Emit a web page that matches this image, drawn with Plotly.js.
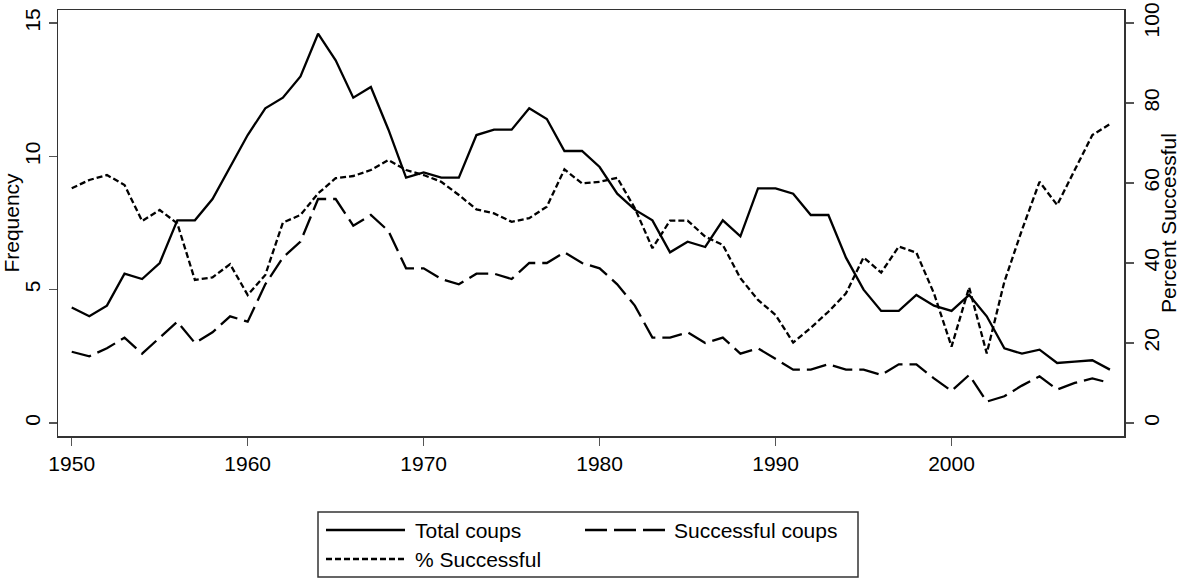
<!DOCTYPE html>
<html>
<head>
<meta charset="utf-8">
<script src="https://cdn.plot.ly/plotly-3.0.1.min.js"></script>
<style>html,body{margin:0;padding:0;background:#fff;}#chart{width:1180px;height:578px;}</style>
</head>
<body>
<div id="chart"></div>
<script>
const years = [];
for (let y = 1950; y <= 2009; y++) years.push(y);

const totalCoups = [4.33,4.0,4.4,5.6,5.4,6.0,7.6,7.6,8.4,9.6,
  10.8,11.8,12.2,13.0,14.6,13.6,12.2,12.6,11.0,9.2,
  9.4,9.2,9.2,10.8,11.0,11.0,11.8,11.4,10.2,10.2,
  9.6,8.6,8.0,7.6,6.4,6.8,6.6,7.6,7.0,8.8,
  8.8,8.6,7.8,7.8,6.2,5.0,4.2,4.2,4.8,4.4,
  4.2,4.8,4.0,2.8,2.6,2.75,2.25,2.3,2.35,2.0];

const successfulCoups = [2.67,2.5,2.8,3.2,2.6,3.2,3.8,3.0,3.4,4.0,
  3.8,5.2,6.2,6.8,8.4,8.4,7.4,7.8,7.2,5.8,
  5.8,5.4,5.2,5.6,5.6,5.4,6.0,6.0,6.4,6.0,
  5.8,5.2,4.4,3.2,3.2,3.4,3.0,3.2,2.6,2.8,
  2.4,2.0,2.0,2.2,2.0,2.0,1.8,2.2,2.2,1.67,
  1.2,1.8,0.8,1.0,1.4,1.75,1.25,1.5,1.67,1.5];

const pctSuccessful = [58.7,60.75,62,59.5,50.5,53.25,49.9,35.75,36.4,39.7,
  32,37,50.1,52,57.4,61.2,61.75,63.25,65.75,63.25,
  62,60.3,57,53.4,52.4,50.3,51.2,54.1,63.4,59.9,
  60.3,61.3,53.7,43.7,50.6,50.6,46.6,44.5,36.2,30.75,
  27,20.1,23.8,27.8,32.4,41.4,37.6,44.1,42.6,32.4,
  19.1,33.9,17.4,35.3,48.25,60.3,54.5,63.25,72,74.75];

const xTicks = [1950,1960,1970,1980,1990,2000];
const leftTicks = [0,5,10,15];
const rightTicks = [0,20,40,60,80,100];
const seriesNames = ["Total coups", "Successful coups", "% Successful"];

const W = 1180, H = 578;
const M = {l:58, r:56, t:10, b:142};
const PW = W - M.l - M.r, PH = H - M.t - M.b;
const px = x => (x - M.l) / PW;
const py = y => (H - M.b - y) / PH;

const LONG = "20px,7px", SHORT = "6px,3px";
const FONT = {family: "'Liberation Sans', Arial, sans-serif", size: 21, color: "#000"};
const LW = 2.3;

const traces = [
  {x: years, y: totalCoups, name: seriesNames[0], type: "scatter", mode: "lines",
   line: {color: "#000", width: LW}},
  {x: years, y: successfulCoups, name: seriesNames[1], type: "scatter", mode: "lines",
   line: {color: "#000", width: LW, dash: LONG}},
  {x: years, y: pctSuccessful, name: seriesNames[2], type: "scatter", mode: "lines", yaxis: "y2",
   line: {color: "#000", width: LW, dash: SHORT}}
];

const rowA = 530, rowB = 559;
const shapes = [
  {type: "rect", xref: "paper", yref: "paper", x0: px(318), x1: px(858), y0: py(512), y1: py(577),
   line: {color: "#333", width: 1.5}, fillcolor: "rgba(0,0,0,0)"},
  {type: "line", xref: "paper", yref: "paper", x0: px(326), x1: px(405), y0: py(rowA), y1: py(rowA),
   line: {color: "#000", width: LW}},
  {type: "line", xref: "paper", yref: "paper", x0: px(585), x1: px(665), y0: py(rowA), y1: py(rowA),
   line: {color: "#000", width: LW, dash: "22px,7px"}},
  {type: "line", xref: "paper", yref: "paper", x0: px(326), x1: px(405), y0: py(rowB), y1: py(rowB),
   line: {color: "#000", width: LW, dash: SHORT}}
];
const annotations = [
  {text: seriesNames[0], x: px(413), y: py(rowA), xanchor: "left", yanchor: "middle"},
  {text: seriesNames[1], x: px(672), y: py(rowA), xanchor: "left", yanchor: "middle"},
  {text: seriesNames[2], x: px(413), y: py(rowB), xanchor: "left", yanchor: "middle"}
].map(a => Object.assign({xref: "paper", yref: "paper", showarrow: false, font: FONT}, a));

const yMin = -0.49, yMax = 15.49;
const layout = {
  width: W, height: H,
  margin: M,
  paper_bgcolor: "#fff", plot_bgcolor: "#fff",
  font: FONT,
  showlegend: false,
  xaxis: {range: [1949.22, 2009.8], tickvals: xTicks, ticks: "outside", ticklen: 8, tickwidth: 1.2,
    tickcolor: "#555", showline: true, linecolor: "#333", linewidth: 1.5, mirror: true,
    showgrid: false, zeroline: false, tickfont: FONT},
  yaxis: {range: [yMin, yMax], tickvals: leftTicks, ticks: "outside", ticklen: 8, tickwidth: 1.2,
    tickcolor: "#555", showline: true, linecolor: "#333", linewidth: 1.5, mirror: true,
    showgrid: false, zeroline: false, tickangle: -90, tickfont: FONT,
    title: {text: "Frequency", font: FONT, standoff: 4}},
  yaxis2: {overlaying: "y", side: "right", range: [yMin * 100 / 15, yMax * 100 / 15], tickvals: rightTicks,
    ticks: "outside", ticklen: 8, tickwidth: 1.2, tickcolor: "#555", showline: true, linecolor: "#333",
    linewidth: 1.5, showgrid: false, zeroline: false, tickangle: -90, tickfont: FONT,
    title: {text: "Percent Successful", font: FONT, standoff: 2}},
  shapes: shapes,
  annotations: annotations
};

Plotly.newPlot("chart", traces, layout, {staticPlot: true, displayModeBar: false});
</script>
</body>
</html>
